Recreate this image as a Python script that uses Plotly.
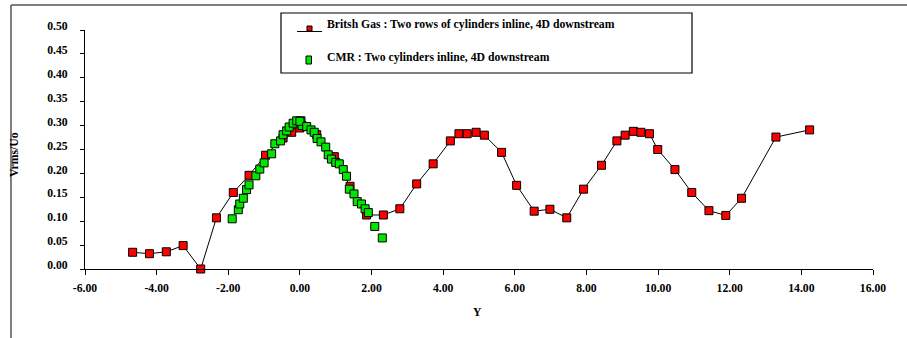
import plotly.graph_objects as go

# British Gas: two rows of cylinders inline, 4D downstream
bg_y = [-4.67, -4.20, -3.73, -3.26, -2.77, -2.33, -1.86, -1.42, -0.96, -0.47,
        -0.23, 0.00, 0.47, 0.96, 1.40, 1.86, 2.33, 2.79, 3.26, 3.72,
        4.20, 4.44, 4.67, 4.92, 5.15, 5.63, 6.05, 6.54, 6.98, 7.45,
        7.92, 8.42, 8.85, 9.08, 9.31, 9.52, 9.76, 9.99, 10.47, 10.94,
        11.42, 11.89, 12.33, 13.29, 14.23]
bg_vrms = [0.035, 0.032, 0.036, 0.049, 0.000, 0.107, 0.160, 0.196, 0.238, 0.274,
           0.286, 0.295, 0.281, 0.235, 0.173, 0.113, 0.113, 0.126, 0.178, 0.220,
           0.268, 0.283, 0.283, 0.286, 0.280, 0.244, 0.175, 0.121, 0.125, 0.107,
           0.167, 0.217, 0.268, 0.280, 0.288, 0.286, 0.283, 0.250, 0.208, 0.160,
           0.122, 0.112, 0.148, 0.276, 0.291]

# CMR: two cylinders inline, 4D downstream
cmr_y = [-1.89, -1.72, -1.68, -1.58, -1.49, -1.42, -1.23, -1.12, -1.00, -0.79,
         -0.70, -0.54, -0.47, -0.37, -0.30, -0.19, -0.09, 0.03, 0.06, 0.00,
         0.19, 0.31, 0.40, 0.48, 0.59, 0.72, 0.79, 0.88, 1.00, 1.10,
         1.21, 1.30, 1.38, 1.51, 1.60, 1.72, 1.82, 1.91, 2.09, 2.30]
cmr_vrms = [0.105, 0.124, 0.136, 0.148, 0.166, 0.176, 0.195, 0.209, 0.222, 0.241,
            0.262, 0.268, 0.281, 0.289, 0.297, 0.305, 0.310, 0.310, 0.300, 0.309,
            0.298, 0.291, 0.286, 0.273, 0.266, 0.255, 0.239, 0.230, 0.223, 0.220,
            0.208, 0.194, 0.167, 0.157, 0.141, 0.136, 0.126, 0.118, 0.089, 0.065]

x_ticks = [-6, -4, -2, 0, 2, 4, 6, 8, 10, 12, 14, 16]
x_labels = ["-6.00", "-4.00", "-2.00", "0.00", "2.00", "4.00", "6.00", "8.00",
            "10.00", "12.00", "14.00", "16.00"]
y_ticks = [0.00, 0.05, 0.10, 0.15, 0.20, 0.25, 0.30, 0.35, 0.40, 0.45, 0.50]
y_labels = ["0.00", "0.05", "0.10", "0.15", "0.20", "0.25", "0.30", "0.35",
            "0.40", "0.45", "0.50"]

bg_name = "Britsh Gas : Two rows of cylinders inline, 4D downstream"
cmr_name = "CMR : Two cylinders inline, 4D downstream"

W, H = 907, 338
ML, MR, MT, MB = 85, 34, 30, 69
PW, PH = W - ML - MR, H - MT - MB

FONT = "Liberation Serif, Times New Roman, serif"
FS = 11.7


def px(x):
    """Horizontal pixel -> paper coordinate."""
    return (x - ML) / PW


def py(y):
    """Vertical pixel (from top) -> paper coordinate."""
    return (H - MB - y) / PH


def bold(size=FS):
    return dict(family=FONT, size=size, color="black", weight="bold")


fig = go.Figure()

fig.add_trace(go.Scatter(
    x=bg_y, y=bg_vrms, mode="lines+markers", name=bg_name,
    line=dict(color="black", width=1),
    marker=dict(symbol="square", size=8, color="#ff0000",
                line=dict(color="black", width=1)),
    cliponaxis=False, showlegend=False,
))
fig.add_trace(go.Scatter(
    x=cmr_y, y=cmr_vrms, mode="markers", name=cmr_name,
    marker=dict(symbol="square", size=8, color="#00e600",
                line=dict(color="black", width=1)),
    cliponaxis=False, showlegend=False,
))

shapes = []
# outer frame (top and left edges)
shapes.append(dict(type="line", xref="paper", yref="paper",
                   x0=px(11), x1=px(W + 2), y0=py(5), y1=py(5),
                   line=dict(color="#555555", width=1.5)))
shapes.append(dict(type="line", xref="paper", yref="paper",
                   x0=px(11), x1=px(11), y0=py(5), y1=py(H + 2),
                   line=dict(color="#555555", width=1.5)))
# legend box
shapes.append(dict(type="rect", xref="paper", yref="paper",
                   x0=px(281), x1=px(692), y0=py(13), y1=py(73),
                   line=dict(color="black", width=1.2), fillcolor="white"))
# legend swatches
shapes.append(dict(type="line", xref="paper", yref="paper",
                   x0=px(297), x1=px(322), y0=py(31.5), y1=py(31.5),
                   line=dict(color="black", width=1)))
shapes.append(dict(type="rect", xref="paper", yref="paper",
                   x0=px(307), x1=px(312), y0=py(26), y1=py(31),
                   line=dict(color="black", width=1), fillcolor="#ff0000"))
shapes.append(dict(type="rect", xref="paper", yref="paper",
                   x0=px(306), x1=px(311.5), y0=py(56), y1=py(64),
                   line=dict(color="black", width=1), fillcolor="#00e600"))

annotations = [
    dict(text=bg_name, xref="paper", yref="paper", x=px(325), y=py(24),
         xanchor="left", yanchor="middle", showarrow=False, font=bold()),
    dict(text=cmr_name, xref="paper", yref="paper", x=px(325), y=py(57),
         xanchor="left", yanchor="middle", showarrow=False, font=bold()),
    dict(text="Vrms/Uo", xref="paper", yref="paper", x=px(14), y=py(155),
         xanchor="center", yanchor="middle", textangle=-90, showarrow=False,
         font=bold()),
    dict(text="Y", xref="paper", yref="paper", x=px(477), y=py(312),
         xanchor="center", yanchor="middle", showarrow=False, font=bold()),
]

fig.update_layout(
    width=W, height=H,
    margin=dict(l=ML, r=MR, t=MT, b=MB, pad=0),
    paper_bgcolor="white", plot_bgcolor="white",
    shapes=shapes, annotations=annotations,
    showlegend=False,
    xaxis=dict(range=[-6, 16], tickmode="array", tickvals=x_ticks, ticktext=x_labels,
               showgrid=False, zeroline=False, showline=True, linecolor="black",
               linewidth=1, ticks="outside", ticklen=5, tickwidth=1, tickcolor="black",
               ticklabelstandoff=3, tickfont=bold()),
    yaxis=dict(range=[0, 0.5], tickmode="array", tickvals=y_ticks, ticktext=y_labels,
               showgrid=False, zeroline=False, showline=True, linecolor="black",
               linewidth=1, ticks="outside", ticklen=4, tickwidth=1, tickcolor="black",
               ticklabelstandoff=10, ticklabelshift=-4, tickfont=bold()),
)

fig.write_html("out.html")
